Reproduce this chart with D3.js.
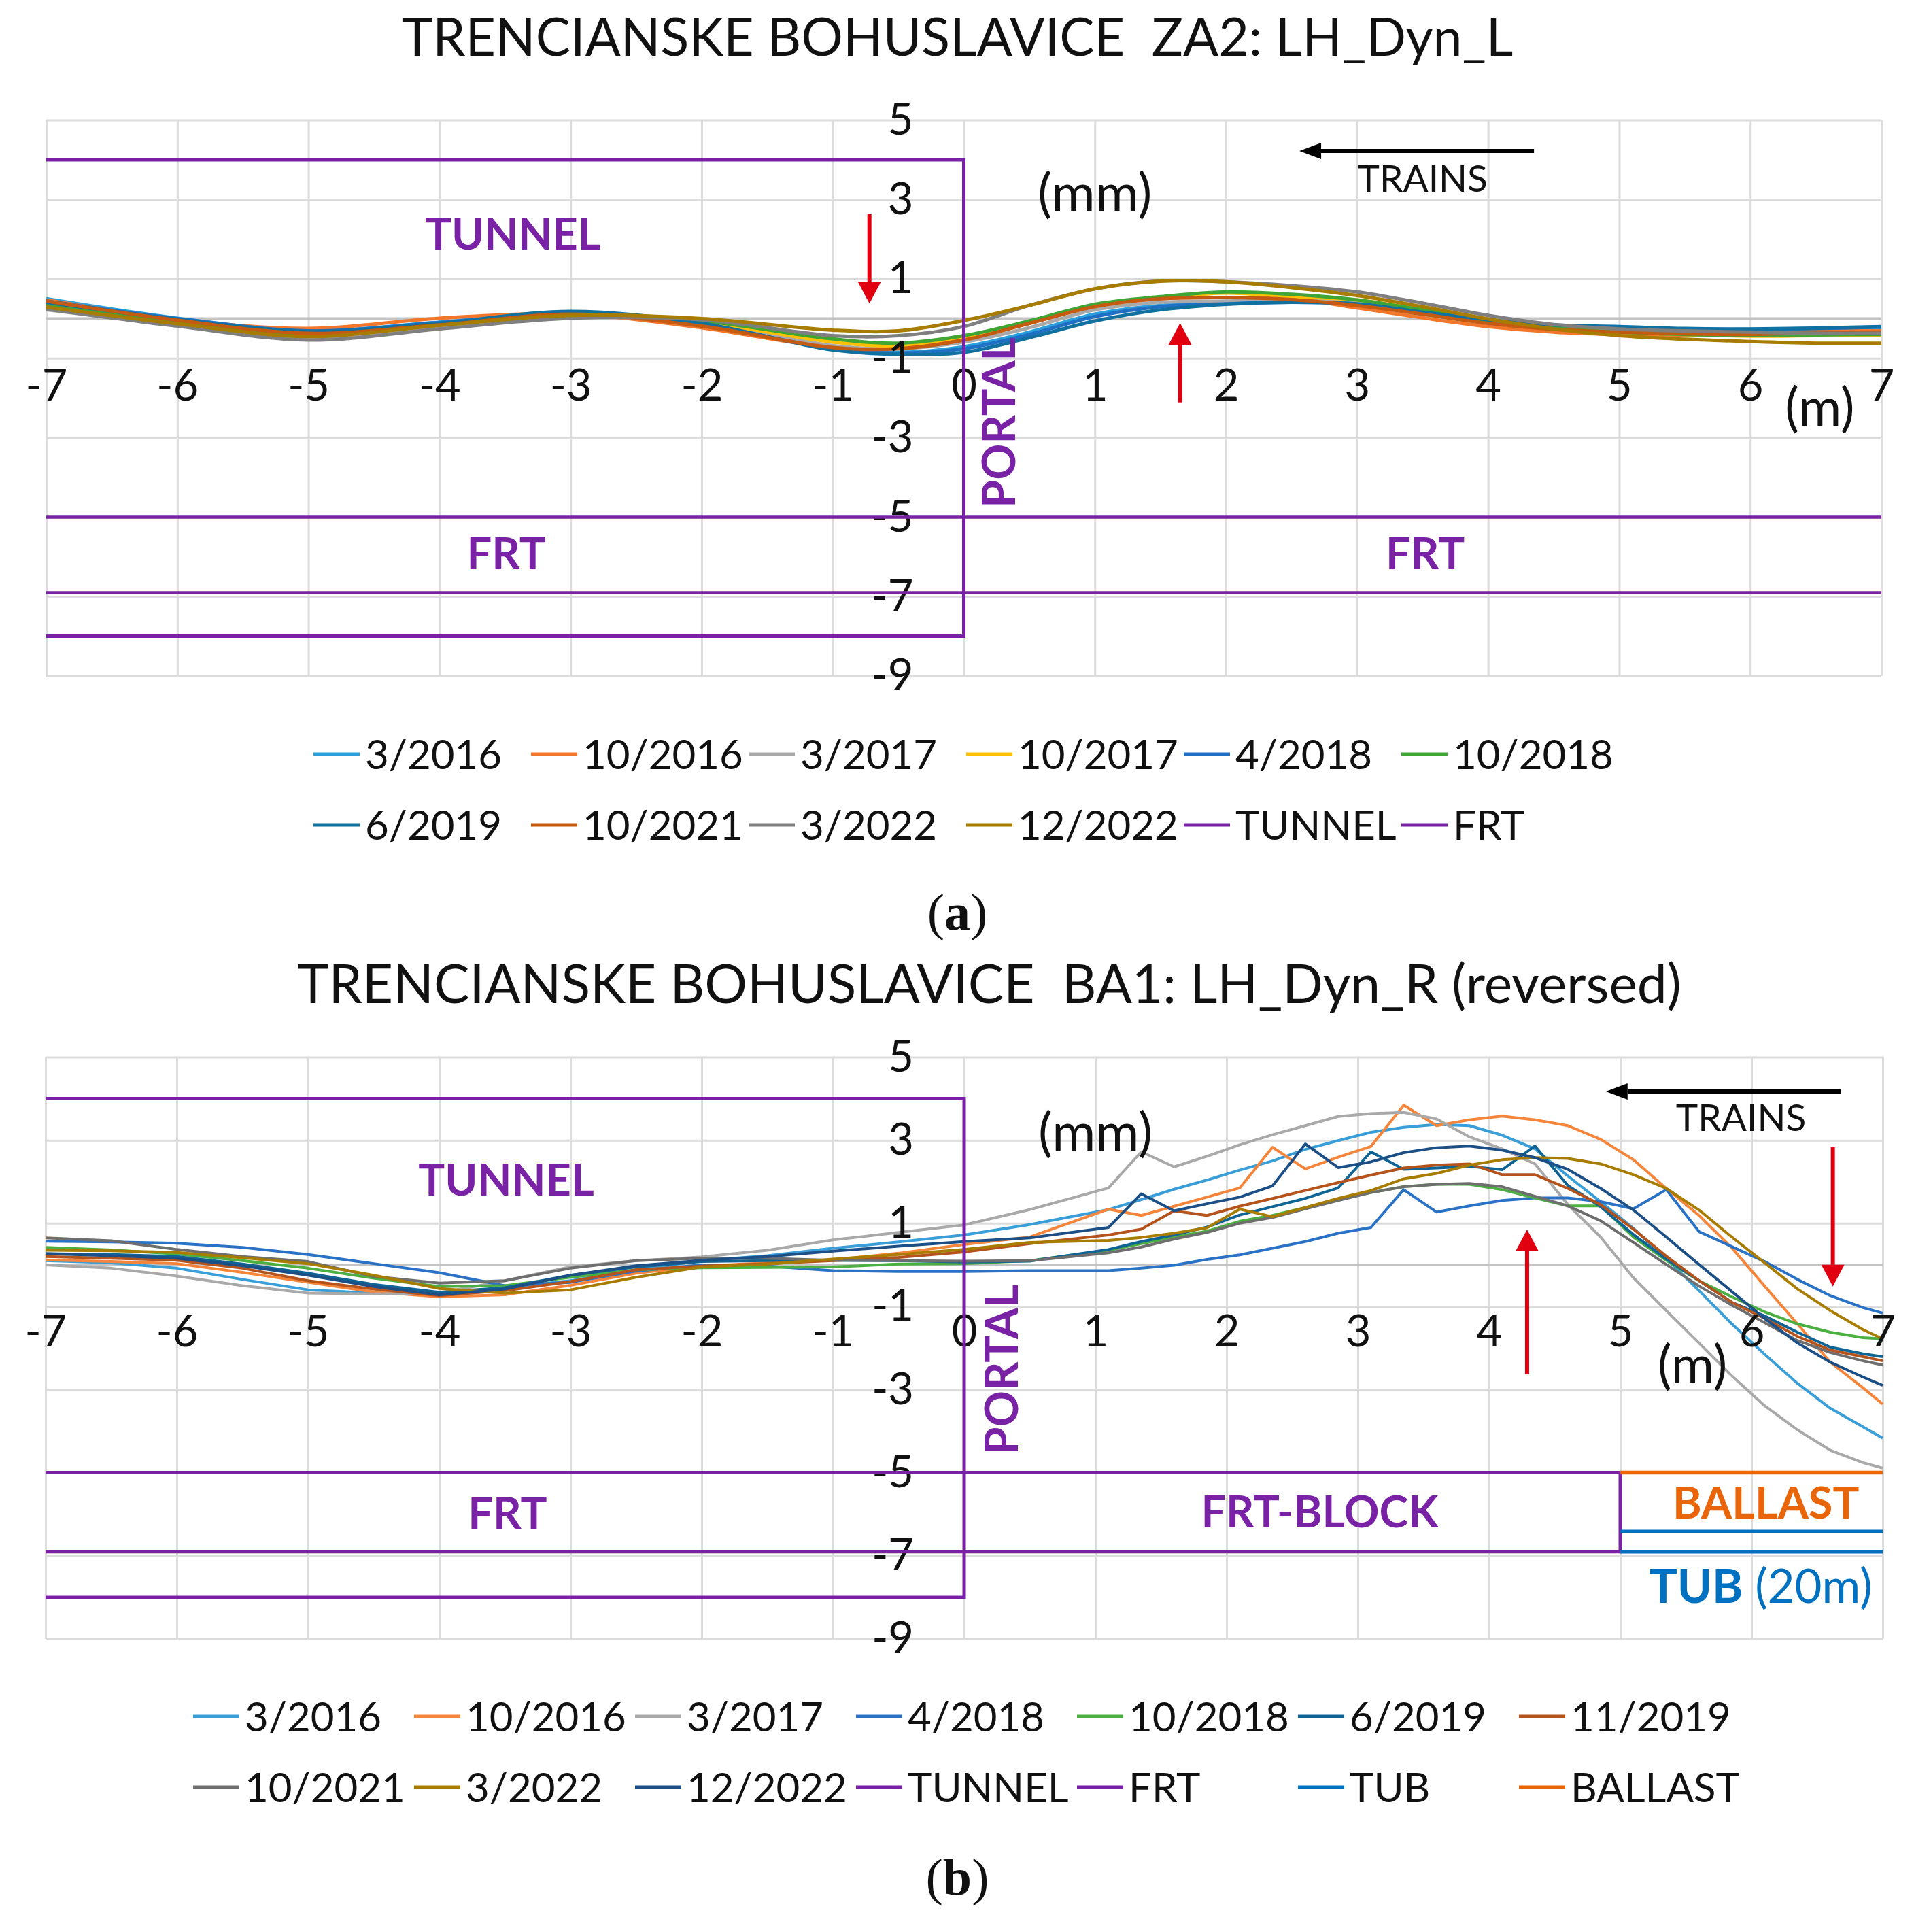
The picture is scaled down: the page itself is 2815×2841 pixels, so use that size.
<!DOCTYPE html>
<meta charset="utf-8">
<style>
body { margin: 0; background: #fff; }
text { font-family: Lato, sans-serif; fill: #111; }
.grid line { stroke: #dcdcdc; stroke-width: 3px; }
.grid path { display: none; }
.labels path { display: none; }
.labels text { font-size: 65px; font-family: Lato, sans-serif; fill: #111; }
.note { font-size: 60px; }
.tag { font-size: 60px; font-weight: 700; }
.legend text { font-size: 60px; }
.series { fill: none; stroke-linejoin: round; }
</style>
<body>
<script src="https://d3js.org/d3.v7.min.js"></script>
<script>

var xTicks = [-7, -6, -5, -4, -3, -2, -1, 0, 1, 2, 3, 4, 5, 6, 7];
var yTicks = [5, 3, 1, -1, -3, -5, -7, -9];

// panel (a): ZA2
var xA = [-7, -6, -5, -4, -3, -2, -1, -0.5, 0, 0.5, 1, 1.5, 2, 2.5, 3, 3.5, 4, 4.5, 5, 5.5, 6, 6.5, 7];
var a_3_2016 = [.5, .01, -.3, -.09, .16, -.12, -.73, -.85, -.71, -.34, .11, .33, .39, .44, .36, .11, -.09, -.23, -.26, -.29, -.29, -.27, -.23];
var a_10_2016 = [.47, -.02, -.25, .01, .11, -.23, -.73, -.73, -.48, -.12, .33, .5, .53, .5, .27, .02, -.2, -.34, -.4, -.43, -.4, -.32, -.31];
var a_3_2017 = [.22, -.17, -.51, -.23, .03, -.09, -.68, -.76, -.59, -.23, .22, .41, .44, .47, .39, .19, -.06, -.23, -.31, -.37, -.4, -.41, -.43];
var a_10_2017 = [.3, -.12, -.43, -.15, .08, -.09, -.59, -.68, -.45, -.09, .33, .52, .64, .55, .47, .22, -.06, -.26, -.34, -.4, -.44, -.43, -.43];
var a_4_2018 = [.44, 0, -.31, -.1, .15, -.15, -.76, -.87, -.76, -.4, .05, .3, .37, .41, .36, .13, -.06, -.17, -.23, -.27, -.27, -.25, -.21];
var a_10_2018 = [.36, -.08, -.4, -.13, .09, -.06, -.51, -.62, -.43, -.06, .36, .55, .67, .61, .47, .22, -.06, -.23, -.34, -.4, -.43, -.41, -.4];
var a_6_2019 = [.41, -.02, -.32, -.12, .18, -.12, -.79, -.9, -.85, -.48, -.06, .22, .36, .41, .37, .16, -.03, -.16, -.2, -.25, -.26, -.24, -.2];
var a_10_2021 = [.44, -.04, -.37, -.16, .11, -.19, -.73, -.76, -.54, -.12, .3, .5, .53, .48, .33, .11, -.12, -.27, -.34, -.38, -.4, -.35, -.34];
var a_3_2022 = [.24, -.19, -.54, -.26, .01, -.03, -.43, -.43, -.2, .33, .75, .95, .93, .83, .67, .39, .08, -.15, -.26, -.31, -.34, -.37, -.37];
var a_12_2022 = [.29, -.13, -.45, -.17, .08, 0, -.29, -.31, -.05, .33, .75, .94, .93, .78, .58, .3, -.01, -.26, -.43, -.52, -.58, -.62, -.62];
var namesA = ["3/2016", "10/2016", "3/2017", "10/2017", "4/2018", "10/2018", "6/2019", "10/2021", "3/2022", "12/2022"];
var valuesA = [a_3_2016, a_10_2016, a_3_2017, a_10_2017, a_4_2018, a_10_2018, a_6_2019, a_10_2021, a_3_2022, a_12_2022];
var colorsA = ["#2a9fdc", "#f2772a", "#a9a9a9", "#ffc000", "#1f6fc4", "#3fa535", "#10709f", "#c55a11", "#7f7f7f", "#a87c00"];

// panel (b): BA1
var xB = [-7, -6.5, -6, -5.5, -5, -4.5, -4, -3.5, -3, -2.5, -2, -1.5, -1, -0.5, 0, 0.5,
  1.1, 1.35, 1.6, 1.85, 2.1, 2.35, 2.6, 2.85, 3.1, 3.35, 3.6, 3.85, 4.1, 4.35, 4.6, 4.85, 5.1, 5.35, 5.6, 5.85, 6.1, 6.35, 6.6, 6.85, 7];
var b_3_2016 = [.1, .05, -.08, -.35, -.6, -.68, -.7, -.55, -.38, -.12, .1, .22, .4, .55, .72, .97,
  1.33, 1.57, 1.82, 2.04, 2.28, 2.5, 2.78, 2.99, 3.19, 3.31, 3.38, 3.35, 3.12, 2.79, 2.14, 1.52, .88, .15, -.62, -1.42, -2.15, -2.85, -3.45, -3.9, -4.17];
var b_10_2016 = [.12, .08, .03, -.18, -.42, -.65, -.77, -.72, -.49, -.2, -.03, .05, .12, .28, .49, .67,
  1.34, 1.19, 1.41, 1.63, 1.85, 2.83, 2.31, 2.59, 2.85, 3.84, 3.35, 3.49, 3.58, 3.49, 3.35, 3.02, 2.53, 1.84, 1.19, .41, -.51, -1.42, -2.34, -2.96, -3.35];
var b_3_2017 = [0, -.08, -.27, -.5, -.68, -.7, -.68, -.38, -.05, .1, .19, .35, .6, .78, .96, 1.33,
  1.85, 2.72, 2.36, 2.61, 2.89, 3.13, 3.35, 3.57, 3.64, 3.67, 3.51, 3.08, 2.79, 2.43, 1.45, .67, -.31, -1.1, -1.88, -2.67, -3.39, -3.97, -4.46, -4.76, -4.89];
var b_4_2018 = [.57, .55, .52, .42, .25, .03, -.19, -.5, -.42, -.15, 0, -.03, -.14, -.16, -.16, -.14,
  -.14, -.08, -.01, .13, .24, .4, .56, .76, .9, 1.81, 1.27, 1.42, 1.55, 1.61, 1.61, 1.52, 1.35, 1.81, .8, .44, .08, -.35, -.74, -1.03, -1.16];
var b_10_2018 = [.42, .36, .26, .1, -.08, -.32, -.52, -.5, -.3, -.12, -.07, -.06, -.05, .02, .03, .1,
  .35, .51, .67, .81, 1.05, 1.19, 1.38, 1.57, 1.74, 1.88, 1.94, 1.94, 1.81, 1.61, 1.42, 1.42, .67, .11, -.38, -.77, -1.13, -1.42, -1.62, -1.75, -1.78];
var b_6_2019 = [.27, .25, .2, .02, -.2, -.47, -.66, -.55, -.25, -.05, .08, .1, .11, .1, .07, .09,
  .37, .56, .72, .91, 1.2, 1.4, 1.6, 1.85, 2.72, 2.3, 2.33, 2.37, 2.29, 2.86, 1.91, 1.4, .73, .14, -.38, -.9, -1.23, -1.62, -1.98, -2.14, -2.21];
var b_11_2019 = [.2, .16, .11, -.08, -.38, -.58, -.74, -.62, -.4, -.12, -.03, .03, .1, .18, .31, .51,
  .72, .86, 1.3, 1.19, 1.41, 1.6, 1.79, 1.98, 2.16, 2.33, 2.4, 2.43, 2.17, 2.17, 1.84, 1.45, .86, .21, -.38, -.9, -1.29, -1.72, -2.05, -2.21, -2.31];
var b_10_2021 = [.65, .58, .37, .2, .08, -.28, -.44, -.38, -.08, .1, .16, .16, .11, .1, .09, .1,
  .29, .43, .62, .78, 1, 1.14, 1.35, 1.55, 1.74, 1.88, 1.94, 1.96, 1.88, 1.65, 1.42, 1.06, .54, .01, -.51, -.97, -1.39, -1.82, -2.11, -2.31, -2.41];
var b_3_2022 = [.35, .34, .3, .17, .03, -.25, -.57, -.68, -.6, -.3, -.05, .02, .14, .25, .37, .54,
  .59, .66, .76, .89, 1.34, 1.16, 1.38, 1.6, 1.79, 2.07, 2.2, 2.4, 2.53, 2.58, 2.56, 2.43, 2.17, 1.84, 1.32, .67, .05, -.58, -1.1, -1.56, -1.78];
var b_12_2022 = [.27, .22, .16, -.02, -.25, -.52, -.72, -.58, -.25, -.02, .11, .2, .33, .45, .56, .65,
  .9, 1.71, 1.3, 1.47, 1.63, 1.9, 2.91, 2.34, 2.48, 2.7, 2.82, 2.86, 2.76, 2.58, 2.3, 1.84, 1.32, .67, .01, -.64, -1.29, -1.88, -2.34, -2.7, -2.9];
var namesB = ["3/2016", "10/2016", "3/2017", "4/2018", "10/2018", "6/2019", "11/2019", "10/2021", "3/2022", "12/2022"];
var valuesB = [b_3_2016, b_10_2016, b_3_2017, b_4_2018, b_10_2018, b_6_2019, b_11_2019, b_10_2021, b_3_2022, b_12_2022];
var colorsB = ["#3a9fd8", "#f5853a", "#a9a9a9", "#2a72c6", "#4caf42", "#0f6496", "#b5531c", "#6e6e6e", "#a87c00", "#1c4f86"];

// structure outlines, as [x, y] in chart units
var purple = "#7a22a6", tubBlue = "#0070c0", ballastOrange = "#e8650a";
var tunnelBox = [[-7, 4], [0, 4], [0, -8], [-7, -8]];
var frtA = [[[-7, -5], [7, -5]], [[-7, -6.9], [7, -6.9]]];
var frtB = [[[-7, -5], [5, -5], [5, -6.9], [-7, -6.9]]];
var ballastB = [[[5, -5], [7, -5]]];
var tubB = [[[5, -6.42], [7, -6.42]], [[5, -6.9], [7, -6.9]]];

var svg = d3.select("body").append("svg")
    .attr("width", 2815)
    .attr("height", 2841);

function arrow(g, x, y, x0, y0, x1, y1, color, width, headW, headL) {
  var ax = x(x0), ay = y(y0), bx = x(x1), by = y(y1);
  var len = Math.hypot(bx - ax, by - ay), ux = (bx - ax) / len, uy = (by - ay) / len;
  var sx = bx - ux * headL, sy = by - uy * headL;
  g.append("line").attr("x1", ax).attr("y1", ay).attr("x2", sx).attr("y2", sy)
      .attr("stroke", color).attr("stroke-width", width);
  g.append("path")
      .attr("d", "M" + bx + "," + by + "L" + (sx - uy * headW / 2) + "," + (sy + ux * headW / 2) +
                 "L" + (sx + uy * headW / 2) + "," + (sy - ux * headW / 2) + "Z")
      .attr("fill", color);
}

function panel(p) {
  var x = d3.scaleLinear().domain([-7, 7]).range(p.xRange);
  var y = d3.scaleLinear().domain([5, -9]).range(p.yRange);
  var g = svg.append("g");

  // title
  g.append("text").text(p.title)
      .attr("x", p.titleX).attr("y", p.titleY)
      .attr("text-anchor", "middle")
      .attr("xml:space", "preserve")
      .style("font-size", p.titleSize + "px");

  // grid
  g.append("g").attr("class", "grid")
      .attr("transform", "translate(" + p.xRange[0] + ",0)")
      .call(d3.axisLeft(y).tickValues(yTicks).tickFormat("").tickSize(p.xRange[0] - p.xRange[1]));
  g.append("g").attr("class", "grid")
      .attr("transform", "translate(0," + p.yRange[0] + ")")
      .call(d3.axisBottom(x).tickValues(xTicks).tickFormat("").tickSize(p.yRange[1] - p.yRange[0]));
  g.append("line")
      .attr("x1", p.xRange[0]).attr("x2", p.xRange[1])
      .attr("y1", y(0)).attr("y2", y(0))
      .attr("stroke", "#c4c4c4").attr("stroke-width", 4);

  // series
  var line = d3.line()
      .x(function(d) { return x(d[0]); })
      .y(function(d) { return y(d[1]); })
      .curve(p.curve);
  p.values.forEach(function(v, i) {
    g.append("path")
        .datum(v.map(function(d, j) { return [p.xs[j], d]; }))
        .attr("class", "series")
        .attr("d", line)
        .attr("stroke", p.colors[i])
        .attr("stroke-width", p.lineWidth);
  });

  // tick labels
  g.append("g").attr("class", "labels")
      .attr("transform", "translate(" + x(0) + ",0)")
      .call(d3.axisLeft(y).tickValues(yTicks).tickSize(0).tickPadding(74).tickFormat(String));
  g.append("g").attr("class", "labels")
      .attr("transform", "translate(0," + y(0) + ")")
      .call(d3.axisBottom(x).tickValues(xTicks).tickSize(0).tickPadding(74).tickFormat(String));

  // structure lines
  var straight = d3.line()
      .x(function(d) { return x(d[0]); })
      .y(function(d) { return y(d[1]); });
  p.outlines.forEach(function(o) {
    o.paths.forEach(function(path) {
      g.append("path").attr("d", straight(path))
          .attr("fill", "none")
          .attr("stroke", o.color)
          .attr("stroke-width", o.width);
    });
  });

  // labels in chart units
  p.notes.forEach(function(n) {
    var t = g.append("text").text(n.text)
        .attr("class", n.bold ? "tag" : "note")
        .attr("text-anchor", "middle")
        .style("fill", n.color || "#111")
        .style("font-size", n.size + "px");
    if (n.rotate) {
      t.attr("transform", "translate(" + x(n.x) + "," + y(n.y) + ") rotate(-90)");
    } else {
      t.attr("x", x(n.x)).attr("y", y(n.y)).attr("dy", ".36em");
    }
  });

  // tub label has two weights
  if (p.tub) {
    var tt = g.append("text")
        .attr("x", x(p.tub[0])).attr("y", y(p.tub[1])).attr("dy", ".36em")
        .attr("text-anchor", "middle")
        .style("font-size", "69px").style("fill", tubBlue);
    tt.append("tspan").text("TUB").style("font-weight", 700);
    tt.append("tspan").text(" (20m)");
  }

  // arrows
  p.arrows.forEach(function(a) {
    arrow(g, x, y, a[0], a[1], a[2], a[3], a[4], 6, a[4] == "#000" ? 24 : 34, 32);
  });

  // legend
  var legend = g.append("g").attr("class", "legend");
  p.legend.forEach(function(l) {
    legend.append("line")
        .attr("x1", l.x).attr("x2", l.x + 68)
        .attr("y1", l.y).attr("y2", l.y)
        .attr("stroke", l.color).attr("stroke-width", 5);
    legend.append("text").text(l.name)
        .attr("x", l.x + 76).attr("y", l.y).attr("dy", ".36em");
  });

  g.append("text")
      .attr("x", p.captionX).attr("y", p.captionY)
      .attr("text-anchor", "middle")
      .style("font-family", "Liberation Serif, serif")
      .style("font-size", "76px")
      .each(function() {
        // only the letter is bold in the caption
        var s = d3.select(this), letter = p.caption.charAt(1);
        s.append("tspan").text("(");
        s.append("tspan").text(letter).style("font-weight", 700);
        s.append("tspan").text(")");
      });
}

function legendRows(names, colors, x0, step, y0, y1, perRow) {
  return names.map(function(n, i) {
    return {
      name: n,
      color: colors[i],
      x: x0 + step * (i % perRow),
      y: i < perRow ? y0 : y1
    };
  });
}

panel({
  title: "TRENCIANSKE BOHUSLAVICE  ZA2: LH_Dyn_L",
  titleX: 1408, titleY: 82, titleSize: 77,
  xRange: [68, 2767], yRange: [176.5, 994],
  xs: xA, values: valuesA, colors: colorsA,
  curve: d3.curveCatmullRom, lineWidth: 5,
  outlines: [
    {color: purple, width: 5, paths: [tunnelBox]},
    {color: purple, width: 4.5, paths: frtA}
  ],
  notes: [
    {text: "TUNNEL", x: -3.44, y: 2.13, bold: true, color: purple, size: 65},
    {text: "FRT", x: -3.49, y: -5.91, bold: true, color: purple, size: 65},
    {text: "FRT", x: 3.52, y: -5.91, bold: true, color: purple, size: 65},
    {text: "PORTAL", x: 0.39, y: -2.62, bold: true, color: purple, size: 66, rotate: true},
    {text: "(mm)", x: 1.0, y: 3.18, size: 78},
    {text: "(m)", x: 6.53, y: -2.23, size: 77},
    {text: "TRAINS", x: 3.5, y: 3.54, size: 55}
  ],
  arrows: [
    [4.35, 4.22, 2.56, 4.22, "#000"],
    [-0.72, 2.63, -0.72, 0.38, "#e00010"],
    [1.65, -2.11, 1.65, -0.11, "#e00010"]
  ],
  legend: legendRows(namesA.concat(["TUNNEL", "FRT"]), colorsA.concat([purple, purple]), 461, 320, 1109, 1213, 6),
  caption: "(a)", captionX: 1408, captionY: 1367
});

panel({
  title: "TRENCIANSKE BOHUSLAVICE  BA1: LH_Dyn_R (reversed)",
  titleX: 1455, titleY: 1475, titleSize: 78.5,
  xRange: [67, 2769], yRange: [1554.4, 2410],
  xs: xB, values: valuesB, colors: colorsB,
  curve: d3.curveLinear, lineWidth: 4,
  outlines: [
    {color: purple, width: 5, paths: [tunnelBox]},
    {color: purple, width: 5, paths: frtB},
    {color: ballastOrange, width: 5.5, paths: ballastB},
    {color: tubBlue, width: 5.5, paths: tubB}
  ],
  notes: [
    {text: "TUNNEL", x: -3.49, y: 2.05, bold: true, color: purple, size: 65},
    {text: "FRT", x: -3.48, y: -5.96, bold: true, color: purple, size: 65},
    {text: "FRT-BLOCK", x: 2.71, y: -5.93, bold: true, color: purple, size: 64.5},
    {text: "BALLAST", x: 6.11, y: -5.72, bold: true, color: ballastOrange, size: 65},
    {text: "PORTAL", x: 0.41, y: -2.52, bold: true, color: purple, size: 66, rotate: true},
    {text: "(mm)", x: 1.0, y: 3.2, size: 78},
    {text: "(m)", x: 5.55, y: -2.4, size: 77},
    {text: "TRAINS", x: 5.92, y: 3.55, size: 55}
  ],
  tub: [6.07, -7.72],
  arrows: [
    [6.68, 4.17, 4.89, 4.17, "#000"],
    [4.29, -2.63, 4.29, 0.85, "#e00010"],
    [6.62, 2.83, 6.62, -0.52, "#e00010"]
  ],
  legend: legendRows(namesB.concat(["TUNNEL", "FRT", "TUB", "BALLAST"]), colorsB.concat([purple, purple, tubBlue, ballastOrange]), 284, 325, 2524, 2628, 7),
  caption: "(b)", captionX: 1408, captionY: 2786
});
</script>
</body>
</html>
